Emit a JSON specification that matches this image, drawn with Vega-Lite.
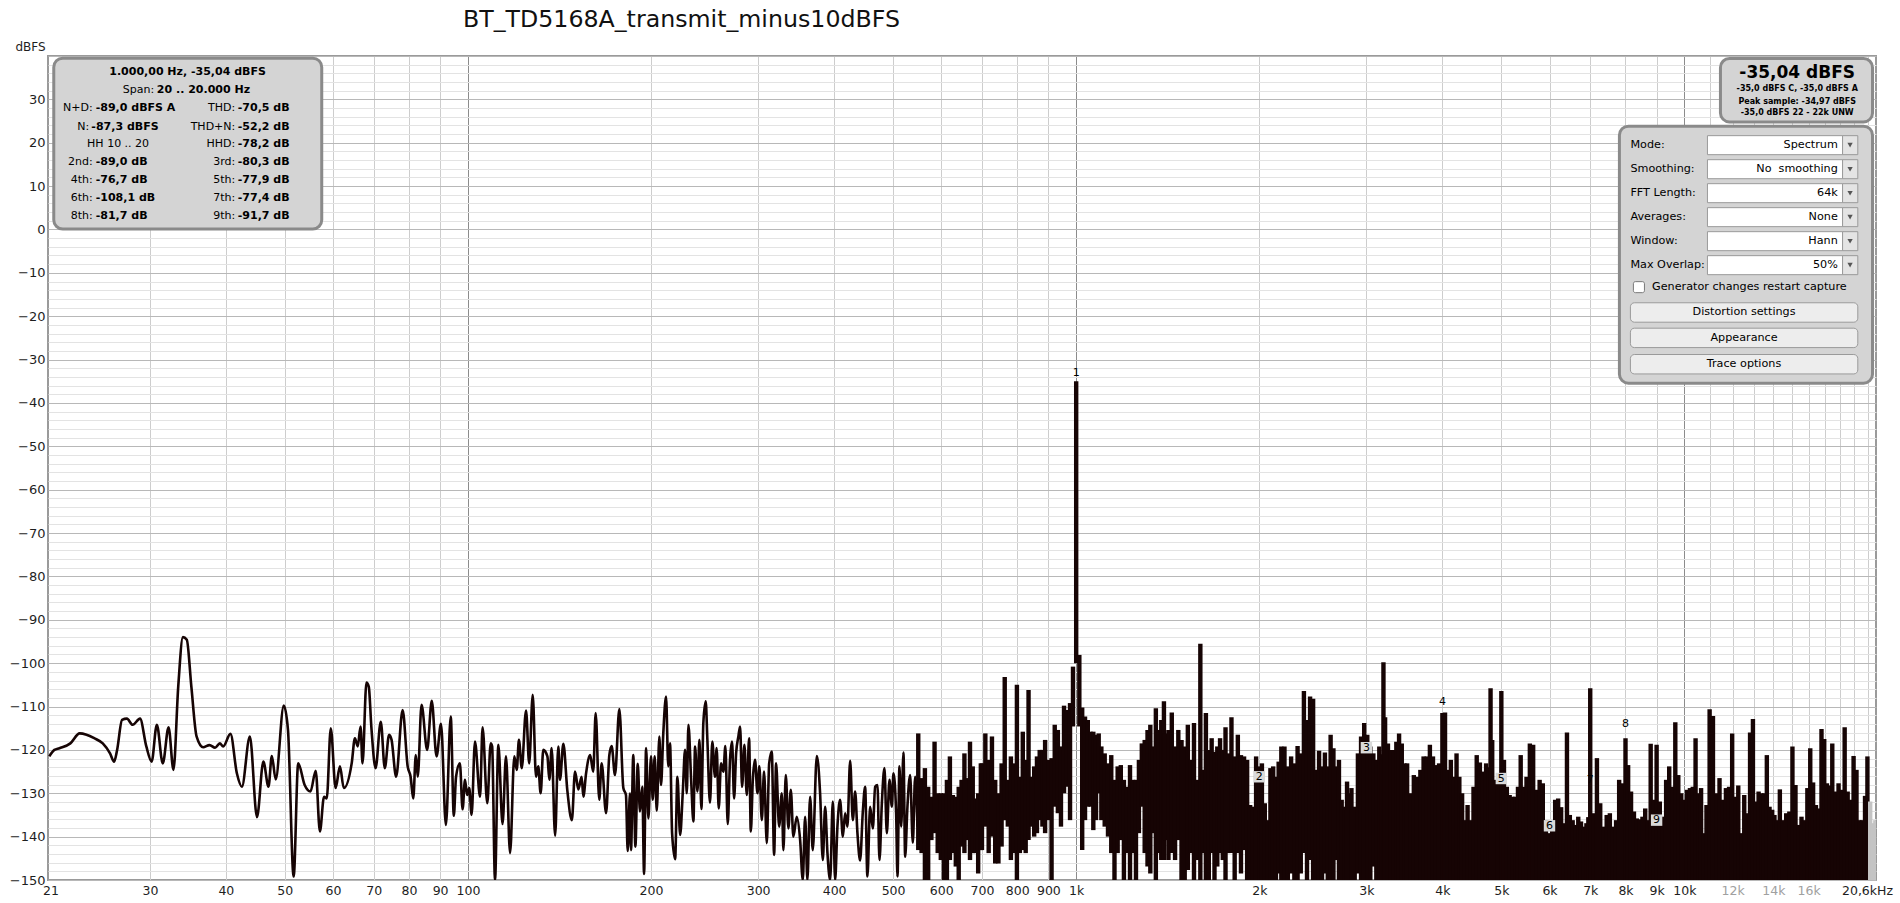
{
"$schema":"https://vega.github.io/schema/vega-lite/v6.json",
"width":1828,"height":824,
"autosize":{"type":"none"},
"padding":{"left":48,"top":56,"right":24,"bottom":23},
"background":"white",
"title":{"text":"BT_TD5168A_transmit_minus10dBFS","anchor":"start","frame":"group","dx":415,"offset":8,"fontSize":23.7,"fontWeight":"normal","font":"DejaVu Sans","color":"#111111"},
"config":{"view":{"stroke":"#9a9a9a","strokeWidth":2},"font":"DejaVu Sans","text":{"font":"DejaVu Sans"}},
"resolve":{"axis":{"x":"independent","y":"independent"}},
"layer":[
{"data":{"values":[
{"f":20.5,"d":-121.5},{"f":20.9,"d":-120.0},{"f":21.3,"d":-119.6},{"f":22.2,"d":-118.5},{"f":23.0,"d":-116.2},{"f":23.6,"d":-116.5},{"f":24.3,"d":-117.3},{"f":25.1,"d":-118.5},{"f":25.8,"d":-120.8},{"f":26.2,"d":-122.7},{"f":26.5,"d":-120.0},{"f":27.0,"d":-113.1},{"f":27.5,"d":-112.8},{"f":28.1,"d":-114.2},{"f":28.9,"d":-112.8},{"f":29.6,"d":-119.2},{"f":30.2,"d":-122.7},{"f":30.8,"d":-114.2},{"f":31.5,"d":-123.1},{"f":32.2,"d":-114.8},{"f":32.8,"d":-124.6},{"f":33.4,"d":-105.4},{"f":34.0,"d":-94.0},{"f":34.5,"d":-94.6},{"f":35.1,"d":-105.4},{"f":35.8,"d":-116.9},{"f":36.7,"d":-119.4},{"f":37.6,"d":-118.9},{"f":38.4,"d":-119.5},{"f":39.1,"d":-118.5},{"f":39.6,"d":-119.2},{"f":40.7,"d":-116.3},{"f":41.7,"d":-125.4},{"f":42.5,"d":-128.5},{"f":43.8,"d":-116.9},{"f":45.0,"d":-135.5},{"f":46.1,"d":-122.7},{"f":47.0,"d":-128.5},{"f":47.6,"d":-121.4},{"f":48.3,"d":-126.8},{"f":49.8,"d":-109.8},{"f":50.6,"d":-115.4},{"f":51.7,"d":-149.2},{"f":52.6,"d":-123.1},{"f":53.9,"d":-128.1},{"f":55.1,"d":-129.6},{"f":56.2,"d":-124.8},{"f":57.1,"d":-138.8},{"f":58.0,"d":-130.8},{"f":58.6,"d":-131.2},{"f":59.5,"d":-115.0},{"f":60.6,"d":-128.8},{"f":61.6,"d":-123.8},
{"f":62.5,"d":-128.8},{"f":64.4,"d":-123.1},{"f":65.2,"d":-117.3},{"f":65.9,"d":-119.2},{"f":66.6,"d":-114.6},{"f":67.1,"d":-123.1},{"f":68.1,"d":-104.5},{"f":68.7,"d":-105.4},{"f":69.4,"d":-115.0},{"f":70.5,"d":-124.2},{"f":71.9,"d":-113.5},{"f":73.0,"d":-124.2},{"f":74.2,"d":-116.5},{"f":74.9,"d":-117.7},{"f":76.2,"d":-126.2},{"f":78.1,"d":-110.8},{"f":79.6,"d":-123.8},{"f":80.5,"d":-126.2},{"f":81.3,"d":-131.2},{"f":82.1,"d":-121.2},{"f":82.7,"d":-126.2},{"f":83.9,"d":-109.6},{"f":85.7,"d":-120.0},{"f":87.2,"d":-108.7},{"f":88.8,"d":-121.5},{"f":90.3,"d":-114.0},{"f":92.0,"d":-137.3},{"f":93.7,"d":-112.3},{"f":94.8,"d":-135.2},{"f":95.6,"d":-126.2},{"f":97.0,"d":-123.1},{"f":98.0,"d":-133.7},{"f":98.9,"d":-126.9},{"f":99.7,"d":-130.4},{"f":100.5,"d":-128.8},{"f":101.4,"d":-135.0},{"f":102.7,"d":-118.1},{"f":104.7,"d":-130.8},{"f":105.7,"d":-114.8},{"f":107.6,"d":-132.3},{"f":109.0,"d":-118.5},{"f":109.6,"d":-119.2},{"f":110.8,"d":-150.0},{"f":112.2,"d":-118.8},{"f":114.0,"d":-137.1},{"f":115.5,"d":-121.5},{"f":117.3,"d":-143.8},{"f":119.2,"d":-121.5},{"f":120.3,"d":-124.6},{"f":121.3,"d":-117.7},{"f":122.6,"d":-124.2},{"f":124.6,"d":-110.9},{"f":126.1,"d":-123.1},{"f":127.8,"d":-107.3},{"f":129.4,"d":-126.2},{"f":130.5,"d":-123.8},{"f":131.7,"d":-130.0},{"f":133.0,"d":-120.0},{"f":135.1,"d":-121.5},{"f":136.1,"d":-126.9},{"f":137.3,"d":-119.6},{"f":139.1,"d":-139.8},{"f":140.8,"d":-119.2},{"f":141.7,"d":-126.9},{"f":143.5,"d":-118.6},{"f":145.7,"d":-129.4},{"f":148.2,"d":-136.2},{"f":150.0,"d":-125.0},{"f":151.9,"d":-129.1},{"f":153.8,"d":-126.2},{"f":154.8,"d":-130.8},{"f":156.4,"d":-125.4},{"f":158.8,"d":-121.2},{"f":160.7,"d":-125.0},{"f":162.2,"d":-111.5},{"f":164.4,"d":-131.5},{"f":165.9,"d":-123.1},{"f":168.7,"d":-134.6},{"f":170.8,"d":-121.2},{"f":172.3,"d":-119.1},{"f":174.5,"d":-125.8},{"f":177.4,"d":-110.6},{"f":180.1,"d":-128.8},{"f":181.9,"d":-130.4},{"f":183.1,"d":-143.3},{"f":184.7,"d":-130.0},
{"f":185.4,"d":-143.1},{"f":187.0,"d":-121.2},{"f":188.5,"d":-142.3},{"f":190.2,"d":-123.2},{"f":191.8,"d":-134.2},{"f":193.5,"d":-128.5},{"f":194.8,"d":-148.6},{"f":196.3,"d":-119.6},{"f":198.0,"d":-135.8},{"f":200.0,"d":-121.5},{"f":201.3,"d":-131.5},{"f":202.8,"d":-121.5},{"f":204.4,"d":-134.0},{"f":206.4,"d":-116.9},{"f":207.7,"d":-128.1},{"f":209.5,"d":-116.2},{"f":211.7,"d":-107.7},{"f":213.5,"d":-123.8},{"f":214.9,"d":-118.5},{"f":216.6,"d":-139.2},{"f":219.1,"d":-145.2},{"f":221.0,"d":-126.2},{"f":223.3,"d":-139.6},{"f":225.5,"d":-130.0},{"f":227.5,"d":-120.0},{"f":229.0,"d":-130.0},{"f":230.4,"d":-114.2},{"f":232.8,"d":-126.9},{"f":234.8,"d":-136.5},{"f":236.3,"d":-119.2},{"f":238.4,"d":-129.6},{"f":240.2,"d":-117.7},{"f":242.0,"d":-133.6},{"f":243.8,"d":-113.8},{"f":246.0,"d":-108.8},{"f":247.5,"d":-117.3},{"f":250.0,"d":-132.2},{"f":252.2,"d":-118.1},{"f":254.8,"d":-126.2},{"f":256.4,"d":-119.6},{"f":258.4,"d":-133.5},{"f":260.7,"d":-123.1},{"f":263.0,"d":-125.0},{"f":265.0,"d":-119.1},{"f":267.4,"d":-137.1},{"f":269.7,"d":-122.3},{"f":271.8,"d":-118.1},{"f":273.9,"d":-131.2},{"f":276.0,"d":-120.8},{"f":278.4,"d":-116.9},{"f":280.2,"d":-114.6},{"f":282.3,"d":-128.5},{"f":284.8,"d":-118.8},{"f":287.4,"d":-130.4},{"f":289.9,"d":-117.3},{"f":291.8,"d":-138.8},{"f":294.0,"d":-126.9},{"f":296.5,"d":-122.3},{"f":299.2,"d":-130.0},{"f":301.4,"d":-123.8},{"f":304.2,"d":-136.2},{"f":306.8,"d":-125.0},{"f":310.0,"d":-141.5},{"f":312.8,"d":-123.1},{"f":315.9,"d":-120.4},{"f":318.7,"d":-144.2},{"f":321.1,"d":-123.1},{"f":324.8,"d":-137.7},{"f":328.1,"d":-130.0},{"f":330.1,"d":-143.1},{"f":333.1,"d":-125.8},{"f":336.4,"d":-138.1},{"f":339.5,"d":-129.2},{"f":342.8,"d":-140.0},{"f":347.2,"d":-135.4},{"f":351.7,"d":-140.8},{"f":355.2,"d":-150},{"f":358.4,"d":-135.4},{"f":361.5,"d":-150},{"f":365.2,"d":-130.8},{"f":368.9,"d":-143.1},{"f":374.6,"d":-121.4},{"f":379.3,"d":-130.0},{"f":383.2,"d":-145.4},{"f":386.6,"d":-133.1},{"f":390.0,"d":-143.8},{"f":394.0,"d":-150},{"f":398.0,"d":-131.9},{"f":401.5,"d":-150},{"f":405.0,"d":-137.7},{"f":409.1,"d":-131.5},{"f":413.4,"d":-140.0},{"f":417.0,"d":-134.6},{"f":420.6,"d":-137.7},{"f":425.0,"d":-122.5},{"f":429.3,"d":-136.2},{"f":433.1,"d":-129.6},{"f":436.9,"d":-139.2},{"f":441.3,"d":-145.5},{"f":445.9,"d":-134.2},{"f":449.8,"d":-128.5},{"f":453.7,"d":-149.2},{"f":458.4,"d":-133.1},{"f":463.1,"d":-138.1},{"f":467.2,"d":-128.5},{"f":471.3,"d":-128.1},{"f":474.9,"d":-145.4},{"f":479.2,"d":-132.3},{"f":483.9,"d":-124.2},{"f":488.3,"d":-139.2},{"f":493.2,"d":-126.9},{"f":497.7,"d":-133.1},{"f":500.7,"d":-125.4},{"f":505.8,"d":-134.6},{"f":508.4,"d":-149.2},{"f":512.2,"d":-123.8},{"f":515.6,"d":-137.7},{"f":520.0,"d":-120.6},{"f":523.4,"d":-144.6},{"f":527.9,"d":-133.1},{"f":533.3,"d":-125.8},{"f":538.8,"d":-141.4},{"f":543.5,"d":-126.2},{"f":548.3,"d":-137.7}
]},
"mark":{"type":"line","interpolate":"monotone","strokeWidth":2.6,"color":"#160404","clip":true},
"encoding":{
"x":{"field":"f","type":"quantitative","scale":{"type":"log","domain":[20.4,20650],"nice":false},
"axis":{"title":null,"values":[20.6,30,40,50,60,70,80,90,100,200,300,400,500,600,700,800,900,1000,2000,3000,4000,5000,6000,7000,8000,9000,10000,11000,12000,13000,14000,15000,16000,17000,18000,19000,20000,20650],
"labelExpr":"datum.value < 25 ? '21' : datum.value > 20500 ? '20,6kHz' : datum.value < 1000 ? '' + datum.value : (datum.value <= 10000 || datum.value == 12000 || datum.value == 14000 || datum.value == 16000) ? (datum.value / 1000) + 'k' : ''",
"labelOverlap":false,"labelFlush":false,"labelBound":false,"ticks":false,"domain":false,"grid":true,
"gridColor":{"condition":{"test":"datum.value == 100 || datum.value == 1000 || datum.value == 10000","value":"#8c8c8c"},"value":"#cdcdcd"},
"gridOpacity":{"condition":{"test":"datum.value < 21 || datum.value > 20600","value":0},"value":1},
"labelColor":{"condition":{"test":"datum.value >= 12000 && datum.value <= 16000","value":"#a0a0a0"},"value":"#1e1e1e"},
"labelOffset":{"condition":{"test":"datum.value > 20600","value":-9},"value":0},
"labelFont":"DejaVu Sans","labelFontSize":12.5,"labelPadding":4}},
"y":{"field":"d","type":"quantitative","scale":{"domain":[-150,40],"nice":false,"zero":false},
"axis":{"title":"dBFS","titleAngle":0,"titleX":-18,"titleY":-10,"titleAlign":"center","titleBaseline":"middle","titleFont":"DejaVu Sans","titleFontSize":12,"titleFontWeight":"normal","titleColor":"#1e1e1e",
"values":[-150,-148,-146,-144,-142,-140,-138,-136,-134,-132,-130,-128,-126,-124,-122,-120,-118,-116,-114,-112,-110,-108,-106,-104,-102,-100,-98,-96,-94,-92,-90,-88,-86,-84,-82,-80,-78,-76,-74,-72,-70,-68,-66,-64,-62,-60,-58,-56,-54,-52,-50,-48,-46,-44,-42,-40,-38,-36,-34,-32,-30,-28,-26,-24,-22,-20,-18,-16,-14,-12,-10,-8,-6,-4,-2,0,2,4,6,8,10,12,14,16,18,20,22,24,26,28,30,32,34,36,38,40],
"labelExpr":"(datum.value % 10 === 0 && datum.value < 40) ? datum.label : ''",
"labelOverlap":false,"labelFlush":false,"ticks":false,"domain":false,"grid":true,
"gridColor":{"condition":{"test":"datum.value % 10 === 0","value":"#b8b8b8"},"value":"#e3e3e3"},
"labelColor":"#1e1e1e","labelFont":"DejaVu Sans","labelFontSize":13,"labelPadding":3}}
}},
{"data":{"values":[
{"f":550,"h":-116.2,"l":-143.1},{"f":557,"h":-126.5,"l":-143.8},{"f":564,"h":-124.2,"l":-150},{"f":571,"h":-128.5,"l":-150},{"f":578,"h":-130.8,"l":-140.8},{"f":585,"h":-118.1,"l":-139.2},{"f":592,"h":-130.0,"l":-143.8},{"f":599,"h":-130.0,"l":-145.4},{"f":606,"h":-130.0,"l":-150},{"f":613,"h":-126.9,"l":-150},{"f":620,"h":-121.5,"l":-145.4},{"f":627,"h":-130.4,"l":-143.8},{"f":634,"h":-130.8,"l":-146.9},{"f":641,"h":-128.5,"l":-150},{"f":648,"h":-126.9,"l":-142.3},{"f":655,"h":-120.8,"l":-143.8},{"f":662,"h":-126.5,"l":-140.8},{"f":669,"h":-118.1,"l":-145.4},{"f":676,"h":-123.8,"l":-143.8},{"f":683,"h":-131.2,"l":-143.8},{"f":690,"h":-130.0,"l":-148.5},{"f":697,"h":-123.1,"l":-143.1},
{"f":700,"h":-123.1,"l":-143.1},{"f":709,"h":-116.2,"l":-137.7},{"f":718,"h":-122.3,"l":-143.8},{"f":727,"h":-116.9,"l":-140.0},{"f":736,"h":-126.9,"l":-146.2},{"f":745,"h":-130.0,"l":-146.2},{"f":754,"h":-123.1,"l":-142.3},{"f":763,"h":-103.2,"l":-136.2},{"f":772,"h":-126.9,"l":-137.7},{"f":781,"h":-121.5,"l":-145.4},{"f":790,"h":-123.1,"l":-143.8},{"f":799,"h":-105.0,"l":-150},{"f":808,"h":-126.2,"l":-143.8},{"f":817,"h":-115.8,"l":-143.1},{"f":826,"h":-122.3,"l":-143.8},{"f":835,"h":-106.2,"l":-140.8},{"f":844,"h":-126.2,"l":-137.7},{"f":853,"h":-123.8,"l":-140.0},{"f":862,"h":-121.5,"l":-139.2},{"f":871,"h":-120.0,"l":-136.2},{"f":880,"h":-120.0,"l":-137.7},{"f":889,"h":-117.7,"l":-139.2},
{"f":900,"h":-122.3,"l":-136.2},{"f":911,"h":-121.9,"l":-150},{"f":922,"h":-114.2,"l":-133.1},{"f":933,"h":-115.4,"l":-134.6},{"f":944,"h":-119.2,"l":-137.7},{"f":955,"h":-109.8,"l":-130.0},{"f":966,"h":-110.8,"l":-128.5},{"f":977,"h":-109.2,"l":-136.2},{"f":988,"h":-100.8,"l":-114.6},{"f":1000,"h":-35.0,"l":-100.0},{"f":1012,"h":-98.1,"l":-114.6},{"f":1023,"h":-110.2,"l":-143.1},{"f":1034,"h":-112.3,"l":-136.2},{"f":1045,"h":-113.1,"l":-133.1},{"f":1056,"h":-115.8,"l":-133.1},{"f":1067,"h":-115.8,"l":-138.5},{"f":1078,"h":-116.5,"l":-136.2},{"f":1089,"h":-116.2,"l":-130.0},
{"f":1100,"h":-119.2,"l":-136.2},{"f":1114,"h":-120.8,"l":-137.7},{"f":1128,"h":-123.1,"l":-140.0},{"f":1142,"h":-121.2,"l":-143.8},{"f":1156,"h":-126.9,"l":-150},{"f":1170,"h":-123.8,"l":-143.8},{"f":1184,"h":-123.5,"l":-140.8},{"f":1198,"h":-126.9,"l":-150},{"f":1212,"h":-128.5,"l":-143.8},{"f":1226,"h":-123.5,"l":-150},{"f":1240,"h":-126.9,"l":-143.8},{"f":1254,"h":-126.9,"l":-150},{"f":1268,"h":-122.3,"l":-139.2},{"f":1282,"h":-118.5,"l":-133.1},{"f":1296,"h":-117.7,"l":-143.8},{"f":1310,"h":-115.4,"l":-146.9},{"f":1324,"h":-114.2,"l":-148.5},{"f":1338,"h":-119.2,"l":-139.2},{"f":1352,"h":-110.4,"l":-150},{"f":1366,"h":-115.4,"l":-143.8},{"f":1380,"h":-113.1,"l":-145.4},{"f":1394,"h":-108.8,"l":-145.4},
{"f":1400,"h":-116.2,"l":-140.8},{"f":1418,"h":-115.4,"l":-145.4},{"f":1436,"h":-111.4,"l":-143.8},{"f":1454,"h":-119.2,"l":-145.4},{"f":1472,"h":-115.4,"l":-140.8},{"f":1490,"h":-117.7,"l":-150},{"f":1508,"h":-119.2,"l":-150},{"f":1526,"h":-114.2,"l":-147.7},{"f":1544,"h":-122.3,"l":-143.8},{"f":1562,"h":-113.8,"l":-150},{"f":1580,"h":-126.9,"l":-145.4},{"f":1600,"h":-95.5,"l":-150},{"f":1616,"h":-124.6,"l":-143.8},{"f":1634,"h":-111.5,"l":-150},{"f":1652,"h":-120.0,"l":-150},{"f":1670,"h":-117.3,"l":-143.8},{"f":1688,"h":-120.4,"l":-150},{"f":1706,"h":-119.2,"l":-146.9},{"f":1724,"h":-117.3,"l":-143.8},{"f":1742,"h":-120.0,"l":-145.4},{"f":1760,"h":-114.8,"l":-150},{"f":1778,"h":-120.8,"l":-143.8},
{"f":1800,"h":-112.5,"l":-143.8},{"f":1822,"h":-121.5,"l":-150},{"f":1844,"h":-116.5,"l":-143.8},{"f":1866,"h":-121.2,"l":-148.5},{"f":1888,"h":-121.5,"l":-143.1},{"f":1910,"h":-122.3,"l":-150},{"f":1932,"h":-132.7,"l":-150},{"f":1954,"h":-133.1,"l":-150},{"f":1976,"h":-121.5,"l":-150},{"f":2000,"h":-123.8,"l":-150},{"f":2020,"h":-123.1,"l":-150},{"f":2042,"h":-132.3,"l":-150},{"f":2064,"h":-136.2,"l":-150},{"f":2086,"h":-124.2,"l":-150},{"f":2108,"h":-123.8,"l":-150},{"f":2130,"h":-126.2,"l":-150},{"f":2152,"h":-122.7,"l":-148.5},{"f":2174,"h":-119.2,"l":-150},
{"f":2200,"h":-119.2,"l":-150},{"f":2228,"h":-123.8,"l":-150},{"f":2256,"h":-121.5,"l":-148.5},{"f":2284,"h":-123.1,"l":-150},{"f":2312,"h":-119.1,"l":-150},{"f":2340,"h":-120.8,"l":-148.5},{"f":2368,"h":-106.4,"l":-143.8},{"f":2396,"h":-113.1,"l":-150},{"f":2424,"h":-107.7,"l":-145.4},{"f":2452,"h":-108.2,"l":-150},{"f":2480,"h":-124.6,"l":-150},{"f":2508,"h":-120.2,"l":-150},{"f":2536,"h":-123.8,"l":-150},{"f":2564,"h":-120.6,"l":-148.5},{"f":2592,"h":-123.8,"l":-150},{"f":2620,"h":-116.5,"l":-150},{"f":2648,"h":-119.6,"l":-150},{"f":2676,"h":-123.8,"l":-145.4},{"f":2704,"h":-122.3,"l":-150},{"f":2732,"h":-131.5,"l":-150},{"f":2760,"h":-133.1,"l":-150},{"f":2788,"h":-127.3,"l":-150},
{"f":2800,"h":-130.0,"l":-150},{"f":2835,"h":-128.8,"l":-150},{"f":2870,"h":-133.1,"l":-150},{"f":2905,"h":-120.8,"l":-148.5},{"f":2940,"h":-116.9,"l":-150},{"f":2975,"h":-113.8,"l":-150},{"f":3010,"h":-116.5,"l":-150},{"f":3045,"h":-119.2,"l":-150},{"f":3080,"h":-120.8,"l":-146.9},{"f":3115,"h":-122.3,"l":-150},{"f":3150,"h":-119.2,"l":-150},{"f":3175,"h":-121.0,"l":-150},{"f":3200,"h":-99.8,"l":-150},{"f":3220,"h":-112.5,"l":-150},{"f":3255,"h":-118.5,"l":-150},{"f":3290,"h":-120.0,"l":-150},{"f":3325,"h":-120.0,"l":-150},{"f":3360,"h":-118.1,"l":-150},{"f":3395,"h":-116.2,"l":-150},{"f":3430,"h":-118.5,"l":-150},{"f":3465,"h":-123.1,"l":-150},
{"f":3500,"h":-123.1,"l":-150},{"f":3545,"h":-130.0,"l":-150},{"f":3590,"h":-125.8,"l":-150},{"f":3635,"h":-126.2,"l":-150},{"f":3680,"h":-124.6,"l":-150},{"f":3725,"h":-121.5,"l":-150},{"f":3770,"h":-121.5,"l":-150},{"f":3815,"h":-118.8,"l":-150},{"f":3860,"h":-121.5,"l":-150},{"f":3905,"h":-123.5,"l":-150},{"f":3950,"h":-123.1,"l":-150},{"f":4000,"h":-111.5,"l":-150},{"f":4040,"h":-111.4,"l":-150},{"f":4085,"h":-124.6,"l":-150},{"f":4130,"h":-122.3,"l":-150},{"f":4175,"h":-126.2,"l":-150},{"f":4220,"h":-120.8,"l":-150},{"f":4265,"h":-126.2,"l":-150},{"f":4310,"h":-130.0,"l":-150},{"f":4355,"h":-136.2,"l":-150},{"f":4400,"h":-132.7,"l":-150},{"f":4445,"h":-136.2,"l":-150},
{"f":4500,"h":-128.5,"l":-150},{"f":4555,"h":-121.2,"l":-150},{"f":4610,"h":-122.9,"l":-150},{"f":4665,"h":-125.0,"l":-150},{"f":4720,"h":-123.1,"l":-150},{"f":4760,"h":-124.0,"l":-150},{"f":4800,"h":-105.8,"l":-150},{"f":4830,"h":-117.7,"l":-150},{"f":4885,"h":-126.9,"l":-150},{"f":4940,"h":-126.9,"l":-150},{"f":5000,"h":-106.4,"l":-150},{"f":5050,"h":-122.3,"l":-150},{"f":5105,"h":-128.5,"l":-150},{"f":5160,"h":-130.4,"l":-150},{"f":5215,"h":-130.8,"l":-150},{"f":5270,"h":-130.8,"l":-150},{"f":5325,"h":-128.5,"l":-150},{"f":5380,"h":-121.2,"l":-150},{"f":5435,"h":-128.5,"l":-150},
{"f":5500,"h":-126.2,"l":-150},{"f":5570,"h":-118.5,"l":-150},{"f":5640,"h":-118.8,"l":-150},{"f":5710,"h":-129.2,"l":-150},{"f":5780,"h":-126.9,"l":-150},{"f":5850,"h":-127.7,"l":-150},{"f":5920,"h":-136.2,"l":-150},{"f":5990,"h":-139.2,"l":-150},{"f":6060,"h":-137.7,"l":-150},{"f":6130,"h":-131.5,"l":-150},{"f":6200,"h":-131.2,"l":-150},{"f":6270,"h":-133.2,"l":-150},{"f":6340,"h":-136.9,"l":-150},{"f":6410,"h":-116.0,"l":-150},{"f":6480,"h":-135.0,"l":-150},{"f":6550,"h":-136.2,"l":-150},{"f":6620,"h":-137.3,"l":-150},{"f":6690,"h":-135.4,"l":-150},{"f":6760,"h":-136.5,"l":-150},{"f":6830,"h":-137.7,"l":-150},{"f":6900,"h":-136.9,"l":-150},{"f":6950,"h":-135.5,"l":-150},
{"f":7000,"h":-105.8,"l":-150},{"f":7090,"h":-134.6,"l":-150},{"f":7180,"h":-121.9,"l":-150},{"f":7270,"h":-132.3,"l":-150},{"f":7360,"h":-137.7,"l":-150},{"f":7450,"h":-135.0,"l":-150},{"f":7540,"h":-134.6,"l":-150},{"f":7630,"h":-137.7,"l":-150},{"f":7720,"h":-136.2,"l":-150},{"f":7810,"h":-126.9,"l":-150},{"f":7900,"h":-127.7,"l":-150},{"f":8000,"h":-117.3,"l":-150},{"f":8080,"h":-123.5,"l":-150},{"f":8170,"h":-129.6,"l":-150},{"f":8260,"h":-134.2,"l":-150},{"f":8350,"h":-135.8,"l":-150},{"f":8440,"h":-136.0,"l":-150},{"f":8530,"h":-135.4,"l":-150},{"f":8620,"h":-133.5,"l":-150},{"f":8710,"h":-136.2,"l":-150},{"f":8800,"h":-118.6,"l":-150},{"f":8890,"h":-131.5,"l":-150},
{"f":9000,"h":-118.8,"l":-150},{"f":9110,"h":-131.9,"l":-150},{"f":9220,"h":-135.4,"l":-150},{"f":9330,"h":-126.9,"l":-150},{"f":9440,"h":-123.8,"l":-150},{"f":9550,"h":-128.5,"l":-150},{"f":9660,"h":-113.6,"l":-150},{"f":9770,"h":-125.8,"l":-150},{"f":9880,"h":-130.0,"l":-150},{"f":9990,"h":-131.5,"l":-150},{"f":10100,"h":-129.2,"l":-150},{"f":10210,"h":-128.8,"l":-150},{"f":10320,"h":-128.5,"l":-150},{"f":10430,"h":-117.3,"l":-150},{"f":10540,"h":-130.0,"l":-150},{"f":10650,"h":-128.8,"l":-150},{"f":10760,"h":-139.2,"l":-150},{"f":10870,"h":-132.7,"l":-150},
{"f":11000,"h":-110.6,"l":-150},{"f":11140,"h":-112.2,"l":-150},{"f":11280,"h":-130.0,"l":-150},{"f":11420,"h":-126.5,"l":-150},{"f":11560,"h":-131.5,"l":-150},{"f":11700,"h":-128.8,"l":-150},{"f":11840,"h":-128.5,"l":-150},{"f":11980,"h":-116.2,"l":-150},{"f":12120,"h":-130.8,"l":-150},{"f":12260,"h":-128.2,"l":-150},{"f":12400,"h":-139.2,"l":-150},{"f":12540,"h":-130.4,"l":-150},{"f":12680,"h":-134.6,"l":-150},{"f":12820,"h":-116.0,"l":-150},{"f":12960,"h":-112.9,"l":-150},{"f":13100,"h":-131.9,"l":-150},{"f":13240,"h":-129.6,"l":-150},{"f":13380,"h":-130.0,"l":-150},{"f":13520,"h":-130.0,"l":-150},{"f":13660,"h":-121.2,"l":-150},{"f":13800,"h":-133.1,"l":-150},{"f":13940,"h":-133.8,"l":-150},{"f":14060,"h":-135.0,"l":-150},
{"f":14175,"h":-136.2,"l":-150},{"f":14350,"h":-129.1,"l":-150},{"f":14525,"h":-136.2,"l":-150},{"f":14700,"h":-134.6,"l":-150},{"f":14875,"h":-134.2,"l":-150},{"f":15050,"h":-119.2,"l":-150},{"f":15225,"h":-128.1,"l":-150},{"f":15400,"h":-137.3,"l":-150},{"f":15575,"h":-135.4,"l":-150},{"f":15750,"h":-136.2,"l":-150},{"f":15925,"h":-128.8,"l":-150},{"f":16100,"h":-119.6,"l":-150},{"f":16275,"h":-127.5,"l":-150},{"f":16450,"h":-132.7,"l":-150},{"f":16625,"h":-133.5,"l":-150},{"f":16800,"h":-115.2,"l":-150},{"f":16975,"h":-117.5,"l":-150},{"f":17150,"h":-127.7,"l":-150},{"f":17325,"h":-128.2,"l":-150},
{"f":17500,"h":-118.5,"l":-150},{"f":17710,"h":-129.6,"l":-150},{"f":17920,"h":-127.7,"l":-150},{"f":18130,"h":-129.2,"l":-150},{"f":18340,"h":-114.8,"l":-150},{"f":18550,"h":-129.6,"l":-150},{"f":18760,"h":-131.5,"l":-150},{"f":18970,"h":-121.4,"l":-150},{"f":19180,"h":-124.6,"l":-150},{"f":19390,"h":-136.2,"l":-150},{"f":19600,"h":-136.2,"l":-150},{"f":19810,"h":-130.6,"l":-150},{"f":19990,"h":-121.5,"l":-150},{"f":20200,"h":-131.9,"l":-150},{"f":20400,"h":-136.9,"l":-150},{"f":20600,"h":-136.2,"l":-150}
]},
"mark":{"type":"rule","strokeWidth":4.4,"clip":true},
"encoding":{
"x":{"field":"f","type":"quantitative","scale":{"type":"log","domain":[20.4,20650],"nice":false},"axis":null},
"y":{"field":"h","type":"quantitative","scale":{"domain":[-150,40],"nice":false,"zero":false},"axis":null},
"y2":{"field":"l"},
"color":{"condition":{"test":"datum.f > 20000","value":"#c4c4c4"},"value":"#160404"}}},
{"data":{"values":[{"n":1,"f":1000,"d":-33.0},{"n":2,"f":2000,"d":-126.2},{"n":3,"f":3000,"d":-119.5},{"n":4,"f":4000,"d":-108.9},{"n":5,"f":5000,"d":-126.6},{"n":6,"f":6000,"d":-137.5},{"n":7,"f":7000,"d":-127.0},{"n":8,"f":8000,"d":-114.1},{"n":9,"f":9000,"d":-136.2}]},
"layer":[
{"transform":[{"filter":"indexof([2,3,5,6,9], datum.n) >= 0"}],
"mark":{"type":"point","shape":"square","filled":true,"size":130,"color":"#d9d9d9","opacity":1},
"encoding":{"x":{"field":"f","type":"quantitative","scale":{"type":"log","domain":[20.4,20650],"nice":false},"axis":null},"y":{"field":"d","type":"quantitative","scale":{"domain":[-150,40],"nice":false,"zero":false},"axis":null}}},
{"mark":{"type":"text","fontSize":11,"color":"#000000","baseline":"middle","align":"center"},
"encoding":{"x":{"field":"f","type":"quantitative","scale":{"type":"log","domain":[20.4,20650],"nice":false},"axis":null},"y":{"field":"d","type":"quantitative","scale":{"domain":[-150,40],"nice":false,"zero":false},"axis":null},"text":{"field":"n"}}}
]},
{"data":{"values":[{}]},
"mark":{"type":"rect","fill":"#d4d4d4","stroke":"#8a8a8a","strokeWidth":3,"cornerRadius":9},
"encoding":{"x":{"datum":20.85,"type":"quantitative","scale":{"type":"log","domain":[20.4,20650],"nice":false},"axis":null},"x2":{"datum":57.5},"y":{"datum":39.5,"type":"quantitative","scale":{"domain":[-150,40],"nice":false,"zero":false},"axis":null},"y2":{"datum":0.1}}},
{"data":{"values":[{}]},
"mark":{"type":"rect","fill":"#d4d4d4","stroke":"#8a8a8a","strokeWidth":3,"cornerRadius":9},
"encoding":{"x":{"datum":11460,"type":"quantitative","scale":{"type":"log","domain":[20.4,20650],"nice":false},"axis":null},"x2":{"datum":20380},"y":{"datum":39.43,"type":"quantitative","scale":{"domain":[-150,40],"nice":false,"zero":false},"axis":null},"y2":{"datum":24.81}}},
{"data":{"values":[{}]},
"mark":{"type":"rect","fill":"#d4d4d4","stroke":"#8a8a8a","strokeWidth":3,"cornerRadius":9},
"encoding":{"x":{"datum":7818,"type":"quantitative","scale":{"type":"log","domain":[20.4,20650],"nice":false},"axis":null},"x2":{"datum":20380},"y":{"datum":23.82,"type":"quantitative","scale":{"domain":[-150,40],"nice":false,"zero":false},"axis":null},"y2":{"datum":-35.44}}},
{"data":{"values":[{"a":21.63,"b":17.25,"c":19.44},{"a":16.09,"b":11.71,"c":13.90},{"a":10.56,"b":6.18,"c":8.37},{"a":5.03,"b":0.65,"c":2.84},{"a":-0.51,"b":-4.89,"c":-2.70},{"a":-6.04,"b":-10.42,"c":-8.23}]},
"layer":[
{"mark":{"type":"rect","fill":"#ffffff","stroke":"#9a9a9a","strokeWidth":1},
"encoding":{"x":{"datum":10910,"type":"quantitative","scale":{"type":"log","domain":[20.4,20650],"nice":false},"axis":null},"x2":{"datum":18195},"y":{"field":"a","type":"quantitative","scale":{"domain":[-150,40],"nice":false,"zero":false},"axis":null},"y2":{"field":"b"}}},
{"mark":{"type":"rect","fill":"#e4e4e4","stroke":"#9a9a9a","strokeWidth":1},
"encoding":{"x":{"datum":18195,"type":"quantitative","scale":{"type":"log","domain":[20.4,20650],"nice":false},"axis":null},"x2":{"datum":19275},"y":{"field":"a","type":"quantitative","scale":{"domain":[-150,40],"nice":false,"zero":false},"axis":null},"y2":{"field":"b"}}},
{"mark":{"type":"point","shape":"triangle-down","filled":true,"size":28,"color":"#555555","opacity":1},
"encoding":{"x":{"datum":18720,"type":"quantitative","scale":{"type":"log","domain":[20.4,20650],"nice":false},"axis":null},"y":{"field":"c","type":"quantitative","scale":{"domain":[-150,40],"nice":false,"zero":false},"axis":null}}}
]},
{"data":{"values":[{"a":-16.9,"b":-21.38},{"a":-22.76,"b":-27.24},{"a":-28.83,"b":-33.31}]},
"mark":{"type":"rect","fill":"#ededed","stroke":"#9a9a9a","strokeWidth":1,"cornerRadius":4},
"encoding":{"x":{"datum":8150,"type":"quantitative","scale":{"type":"log","domain":[20.4,20650],"nice":false},"axis":null},"x2":{"datum":19275},"y":{"field":"a","type":"quantitative","scale":{"domain":[-150,40],"nice":false,"zero":false},"axis":null},"y2":{"field":"b"}}},
{"data":{"values":[{}]},
"mark":{"type":"rect","fill":"#ffffff","stroke":"#777777","strokeWidth":1,"cornerRadius":2},
"encoding":{"x":{"datum":8243,"type":"quantitative","scale":{"type":"log","domain":[20.4,20650],"nice":false},"axis":null},"x2":{"datum":8595},"y":{"datum":-12.03,"type":"quantitative","scale":{"domain":[-150,40],"nice":false,"zero":false},"axis":null},"y2":{"datum":-14.57}}},
{"data":{"values":[{"t":"1.000,00 Hz, -35,04 dBFS","f":34.6,"d":36.34}]},
"mark":{"type":"text","fontSize":11,"fontWeight":"bold","align":"center","baseline":"middle","color":"#000000"},
"encoding":{"x":{"field":"f","type":"quantitative","scale":{"type":"log","domain":[20.4,20650],"nice":false},"axis":null},"y":{"field":"d","type":"quantitative","scale":{"domain":[-150,40],"nice":false,"zero":false},"axis":null},"text":{"field":"t"}}},
{"data":{"values":[{"t":"Span:","f":30.5,"d":32.12},{"t":"N+D:","f":24.16,"d":27.90},{"t":"N:","f":23.84,"d":23.66},{"t":"2nd:","f":24.16,"d":15.45},{"t":"4th:","f":24.16,"d":11.37},{"t":"6th:","f":24.16,"d":7.15},{"t":"8th:","f":24.16,"d":3.07},{"t":"THD:","f":41.45,"d":27.90},{"t":"THD+N:","f":41.45,"d":23.66},{"t":"HHD:","f":41.45,"d":19.67},{"t":"3rd:","f":41.45,"d":15.45},{"t":"5th:","f":41.45,"d":11.37},{"t":"7th:","f":41.45,"d":7.15},{"t":"9th:","f":41.45,"d":3.07}]},
"mark":{"type":"text","fontSize":11,"fontWeight":"normal","align":"right","baseline":"middle","color":"#000000"},
"encoding":{"x":{"field":"f","type":"quantitative","scale":{"type":"log","domain":[20.4,20650],"nice":false},"axis":null},"y":{"field":"d","type":"quantitative","scale":{"domain":[-150,40],"nice":false,"zero":false},"axis":null},"text":{"field":"t"}}},
{"data":{"values":[{"t":"20 .. 20.000 Hz","f":30.8,"d":32.12},{"t":"-89,0 dBFS A","f":24.44,"d":27.90},{"t":"-87,3 dBFS","f":24.04,"d":23.66},{"t":"-89,0 dB","f":24.44,"d":15.45},{"t":"-76,7 dB","f":24.44,"d":11.37},{"t":"-108,1 dB","f":24.44,"d":7.15},{"t":"-81,7 dB","f":24.44,"d":3.07},{"t":"-70,5 dB","f":41.84,"d":27.90},{"t":"-52,2 dB","f":41.84,"d":23.66},{"t":"-78,2 dB","f":41.84,"d":19.67},{"t":"-80,3 dB","f":41.84,"d":15.45},{"t":"-77,9 dB","f":41.84,"d":11.37},{"t":"-77,4 dB","f":41.84,"d":7.15},{"t":"-91,7 dB","f":41.84,"d":3.07}]},
"mark":{"type":"text","fontSize":11,"fontWeight":"bold","align":"left","baseline":"middle","color":"#000000"},
"encoding":{"x":{"field":"f","type":"quantitative","scale":{"type":"log","domain":[20.4,20650],"nice":false},"axis":null},"y":{"field":"d","type":"quantitative","scale":{"domain":[-150,40],"nice":false,"zero":false},"axis":null},"text":{"field":"t"}}},
{"data":{"values":[{"t":"HH 10 .. 20","f":26.6,"d":19.67}]},
"mark":{"type":"text","fontSize":11,"fontWeight":"normal","align":"center","baseline":"middle","color":"#000000"},
"encoding":{"x":{"field":"f","type":"quantitative","scale":{"type":"log","domain":[20.4,20650],"nice":false},"axis":null},"y":{"field":"d","type":"quantitative","scale":{"domain":[-150,40],"nice":false,"zero":false},"axis":null},"text":{"field":"t"}}},
{"data":{"values":[{"t":"-35,04 dBFS","f":15325,"d":35.97}]},
"mark":{"type":"text","fontSize":17,"fontWeight":"bold","align":"center","baseline":"middle","color":"#000000"},
"encoding":{"x":{"field":"f","type":"quantitative","scale":{"type":"log","domain":[20.4,20650],"nice":false},"axis":null},"y":{"field":"d","type":"quantitative","scale":{"domain":[-150,40],"nice":false,"zero":false},"axis":null},"text":{"field":"t"}}},
{"data":{"values":[{"t":"-35,0 dBFS C, -35,0 dBFS A","f":15325,"d":32.35},{"t":"Peak sample: -34,97 dBFS","f":15325,"d":29.42},{"t":"-35,0 dBFS 22 - 22k UNW","f":15325,"d":26.75}]},
"mark":{"type":"text","fontSize":8,"fontWeight":"bold","align":"center","baseline":"middle","color":"#000000"},
"encoding":{"x":{"field":"f","type":"quantitative","scale":{"type":"log","domain":[20.4,20650],"nice":false},"axis":null},"y":{"field":"d","type":"quantitative","scale":{"domain":[-150,40],"nice":false,"zero":false},"axis":null},"text":{"field":"t"}}},
{"data":{"values":[{"t":"Mode:","f":8150,"d":19.44},{"t":"Smoothing:","f":8150,"d":13.90},{"t":"FFT Length:","f":8150,"d":8.37},{"t":"Averages:","f":8150,"d":2.84},{"t":"Window:","f":8150,"d":-2.70},{"t":"Max Overlap:","f":8150,"d":-8.23},{"t":"Generator changes restart capture","f":8845,"d":-13.3}]},
"mark":{"type":"text","fontSize":11.2,"align":"left","baseline":"middle","color":"#000000"},
"encoding":{"x":{"field":"f","type":"quantitative","scale":{"type":"log","domain":[20.4,20650],"nice":false},"axis":null},"y":{"field":"d","type":"quantitative","scale":{"domain":[-150,40],"nice":false,"zero":false},"axis":null},"text":{"field":"t"}}},
{"data":{"values":[{"t":"Spectrum","f":17870,"d":19.44},{"t":"No\u00a0\u00a0smoothing","f":17870,"d":13.90},{"t":"64k","f":17870,"d":8.37},{"t":"None","f":17870,"d":2.84},{"t":"Hann","f":17870,"d":-2.70},{"t":"50%","f":17870,"d":-8.23}]},
"mark":{"type":"text","fontSize":11.2,"align":"right","baseline":"middle","color":"#000000"},
"encoding":{"x":{"field":"f","type":"quantitative","scale":{"type":"log","domain":[20.4,20650],"nice":false},"axis":null},"y":{"field":"d","type":"quantitative","scale":{"domain":[-150,40],"nice":false,"zero":false},"axis":null},"text":{"field":"t"}}},
{"data":{"values":[{"t":"Distortion settings","f":12530,"d":-19.14},{"t":"Appearance","f":12530,"d":-25.0},{"t":"Trace options","f":12530,"d":-31.07}]},
"mark":{"type":"text","fontSize":11.2,"align":"center","baseline":"middle","color":"#000000"},
"encoding":{"x":{"field":"f","type":"quantitative","scale":{"type":"log","domain":[20.4,20650],"nice":false},"axis":null},"y":{"field":"d","type":"quantitative","scale":{"domain":[-150,40],"nice":false,"zero":false},"axis":null},"text":{"field":"t"}}}
]
}
